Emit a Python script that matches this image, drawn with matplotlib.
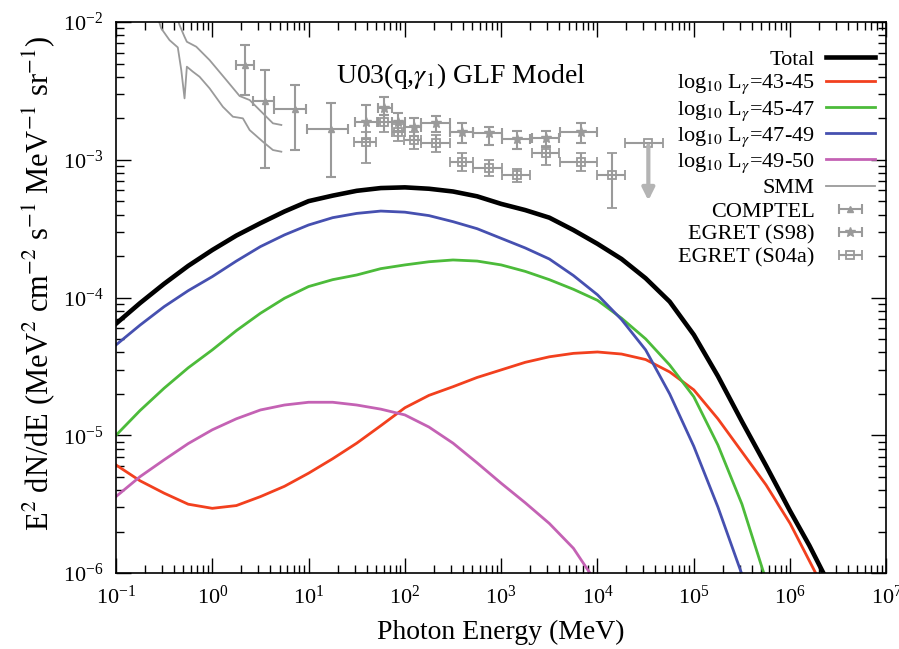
import numpy as np
import matplotlib
matplotlib.use("Agg")
import matplotlib.pyplot as plt

plt.rcParams['font.family'] = ['Liberation Serif', 'DejaVu Serif']
plt.rcParams['mathtext.fontset'] = 'stix'

# model curves: log10(E/MeV) and log10(E^2 dN/dE)
loge = [-1, -0.75, -0.5, -0.25, 0, 0.25, 0.5, 0.75, 1, 1.25, 1.5, 1.75, 2, 2.25, 2.5,
        2.75, 3, 3.25, 3.5, 3.75, 4, 4.25, 4.5, 4.75, 5, 5.25, 5.5, 5.75, 6]

total_e = loge + [6.2, 6.36]
total_y = [-4.19, -4.04, -3.90, -3.77, -3.655, -3.55, -3.46, -3.375, -3.30, -3.26, -3.225,
           -3.205, -3.20, -3.21, -3.23, -3.265, -3.32, -3.365, -3.42, -3.51, -3.61, -3.72,
           -3.86, -4.03, -4.27, -4.57, -4.90, -5.22, -5.55, -5.80, -6.02]

red_e = loge + [6.28]
red_y = [-5.215, -5.33, -5.42, -5.50, -5.53, -5.51, -5.445, -5.37, -5.275, -5.17, -5.057,
         -4.93, -4.80, -4.71, -4.647, -4.58, -4.525, -4.47, -4.43, -4.405, -4.395, -4.41,
         -4.45, -4.54, -4.67, -4.88, -5.12, -5.36, -5.64, -6.02]

green_e = loge[:27] + [5.74]
green_y = [-5.0, -4.82, -4.658, -4.51, -4.38, -4.24, -4.114, -4.005, -3.92, -3.87, -3.836,
           -3.79, -3.763, -3.74, -3.727, -3.735, -3.763, -3.81, -3.87, -3.94, -4.02, -4.15,
           -4.30, -4.49, -4.72, -5.07, -5.50, -6.03]

blue_e = loge[:26] + [5.51]
blue_y = [-4.344, -4.20, -4.066, -3.95, -3.848, -3.735, -3.63, -3.545, -3.473, -3.42, -3.389,
          -3.372, -3.38, -3.405, -3.449, -3.50, -3.57, -3.64, -3.72, -3.84, -3.98, -4.16,
          -4.38, -4.70, -5.08, -5.52, -6.03]

mag_e = loge[:20] + [3.95]
mag_y = [-5.445, -5.30, -5.178, -5.06, -4.96, -4.88, -4.816, -4.78, -4.76, -4.76, -4.78,
         -4.81, -4.852, -4.94, -5.057, -5.20, -5.348, -5.49, -5.64, -5.82, -6.03]

# SMM (two traces)
smm1_e = [-0.36, -0.34, -0.288, -0.264, -0.166, -0.028, 0.146, 0.284, 0.388, 0.492, 0.63, 0.717]
smm1_y = [-1.98, -2.022, -2.107, -2.143, -2.179, -2.276, -2.421, -2.537, -2.566, -2.639, -2.735, -2.747]
smm2_e = [-0.56, -0.53, -0.444, -0.358, -0.322, -0.288, -0.264, -0.202, -0.132, -0.028, 0.11,
          0.214, 0.318, 0.388, 0.526, 0.63, 0.717]
smm2_y = [-1.98, -2.046, -2.131, -2.184, -2.348, -2.554, -2.324, -2.36, -2.397, -2.481, -2.615,
          -2.687, -2.699, -2.784, -2.869, -2.929, -2.941]

# COMPTEL: centre, x range, y range (log10)
comp_e = [0.336, 0.544, 0.855, 1.237]
comp_elo = [0.249, 0.422, 0.637, 0.983]
comp_ehi = [0.429, 0.637, 0.977, 1.41]
comp_y = [-2.312, -2.571, -2.634, -2.779]
comp_ylo = [-2.530, -3.062, -2.929, -3.123]
comp_yhi = [-2.167, -2.348, -2.457, -2.59]

# EGRET (S98)
s98_e = [1.601, 1.784, 1.929, 2.096, 2.328, 2.588, 2.875, 3.166, 3.465, 3.825]
s98_elo = [1.48, 1.72, 1.861, 1.99, 2.17, 2.467, 2.709, 3.004, 3.316, 3.61]
s98_ehi = [1.72, 1.861, 2.0, 2.17, 2.467, 2.709, 3.004, 3.298, 3.603, 3.99]
s98_y = [-2.728, -2.626, -2.723, -2.76, -2.735, -2.796, -2.808, -2.851, -2.844, -2.80]
s98_ylo = [-2.85, -2.675, -2.79, -2.83, -2.80, -2.88, -2.893, -2.92, -2.905, -2.876]
s98_yhi = [-2.602, -2.542, -2.66, -2.70, -2.68, -2.73, -2.76, -2.79, -2.79, -2.735]

# EGRET (S04a)
s04_e = [1.601, 1.784, 1.929, 2.096, 2.328, 2.588, 2.875, 3.166, 3.465, 3.825, 4.147]
s04_elo = [1.47, 1.715, 1.861, 1.99, 2.17, 2.467, 2.709, 3.004, 3.316, 3.61, 3.99]
s04_ehi = [1.705, 1.861, 2.0, 2.17, 2.467, 2.709, 3.004, 3.298, 3.603, 3.99, 4.286]
s04_y = [-2.869, -2.723, -2.796, -2.856, -2.88, -3.014, -3.062, -3.110, -2.953, -3.014, -3.11]
s04_ylo = [-3.025, -2.796, -2.86, -2.92, -2.94, -3.08, -3.12, -3.16, -3.038, -3.08, -3.352]
s04_yhi = [-2.80, -2.675, -2.74, -2.80, -2.82, -2.95, -3.00, -3.07, -2.90, -2.95, -2.953]

# upper limit
ul_e, ul_elo, ul_ehi, ul_y, ul_yend = 4.528, 4.286, 4.684, -2.876, -3.316

gray = '#9a9a9a'
c_red, c_green, c_blue, c_mag = '#f2401e', '#4cbb3a', '#4650b0', '#c462b4'


def p(a):
    return 10 ** np.asarray(a, dtype=float)


def errs(c, lo, hi):
    c, lo, hi = p(c), p(lo), p(hi)
    return [c - lo, hi - c]


fig = plt.figure(figsize=(8.99, 6.49), dpi=100)
ax = fig.add_axes([0.129, 0.117, 0.857, 0.849])

ax.plot(p(smm1_e), p(smm1_y), color=gray, lw=1.3)
ax.plot(p(smm2_e), p(smm2_y), color=gray, lw=1.3)

eb = dict(color=gray, ecolor=gray, elinewidth=1.5, capsize=3.5, capthick=1.5, ls='none')
ax.errorbar(p(comp_e), p(comp_y), xerr=errs(comp_e, comp_elo, comp_ehi),
            yerr=errs(comp_y, comp_ylo, comp_yhi), marker='^', ms=5, **eb)
ax.errorbar(p(s98_e), p(s98_y), xerr=errs(s98_e, s98_elo, s98_ehi),
            yerr=errs(s98_y, s98_ylo, s98_yhi), marker='*', ms=7, **eb)
ax.errorbar(p(s04_e), p(s04_y), xerr=errs(s04_e, s04_elo, s04_ehi),
            yerr=errs(s04_y, s04_ylo, s04_yhi), marker='s', ms=5.5, mfc='none', mew=1.3, **eb)
ax.errorbar(p([ul_e]), p([ul_y]), xerr=errs([ul_e], [ul_elo], [ul_ehi]),
            marker='s', ms=5.5, mfc='none', mew=1.3, **eb)
ax.annotate('', xy=(10 ** ul_e, 10 ** ul_yend), xytext=(10 ** ul_e, 10 ** ul_y),
            arrowprops=dict(arrowstyle='-|>', color='#b4b4b4', lw=3, mutation_scale=18))

ax.plot(p(red_e), p(red_y), color=c_red, lw=2)
ax.plot(p(green_e), p(green_y), color=c_green, lw=2)
ax.plot(p(blue_e), p(blue_y), color=c_blue, lw=2)
ax.plot(p(mag_e), p(mag_y), color=c_mag, lw=2)
ax.plot(p(total_e), p(total_y), color='black', lw=3.3)

# legend proxies
nan = [np.nan]
h_tot, = ax.plot(nan, nan, color='black', lw=3.3)
h_r, = ax.plot(nan, nan, color=c_red, lw=2)
h_g, = ax.plot(nan, nan, color=c_green, lw=2)
h_b, = ax.plot(nan, nan, color=c_blue, lw=2)
h_m, = ax.plot(nan, nan, color=c_mag, lw=2)
h_smm, = ax.plot(nan, nan, color=gray, lw=1.3)
h_c = ax.errorbar(nan, nan, xerr=[nan, nan], marker='^', ms=5, **eb)
h_s98 = ax.errorbar(nan, nan, xerr=[nan, nan], marker='*', ms=7, **eb)
h_s04 = ax.errorbar(nan, nan, xerr=[nan, nan], marker='s', ms=5.5, mfc='none', mew=1.3, **eb)

labels = ['Total',
          r'log$_{10}$ L$_{\gamma}$=43-45',
          r'log$_{10}$ L$_{\gamma}$=45-47',
          r'log$_{10}$ L$_{\gamma}$=47-49',
          r'log$_{10}$ L$_{\gamma}$=49-50',
          'SMM', 'COMPTEL', 'EGRET (S98)', 'EGRET (S04a)']
ax.legend([h_tot, h_r, h_g, h_b, h_m, h_smm, h_c, h_s98, h_s04], labels,
          loc='upper right', bbox_to_anchor=(0.985, 0.95), frameon=False,
          markerfirst=False, fontsize=16, labelspacing=0.12, handlelength=2.2,
          handletextpad=0.5, borderaxespad=0, borderpad=0)

ax.text(0.447, 0.903, r'U03(q,$\gamma_1$) GLF Model', transform=ax.transAxes,
        ha='center', va='center', fontsize=20)

ax.set_xscale('log')
ax.set_yscale('log')
ax.set_xlim(1e-1, 1e7)
ax.set_ylim(1e-6, 1e-2)
ax.tick_params(which='both', direction='in', top=True, right=True, labelsize=16, width=1)
ax.tick_params(which='major', length=11, pad=9)
ax.tick_params(which='minor', length=6)
for s in ax.spines.values():
    s.set_linewidth(1.2)

ax.set_xlabel('Photon Energy (MeV)', fontsize=20, labelpad=8)
ax.set_ylabel(r'E$^2$ dN/dE (MeV$^2$ cm$^{-2}$ s$^{-1}$ MeV$^{-1}$ sr$^{-1}$)', fontsize=22)
ax.yaxis.set_label_coords(-0.077, 0.525)

fig.savefig('out.png', dpi=100)
